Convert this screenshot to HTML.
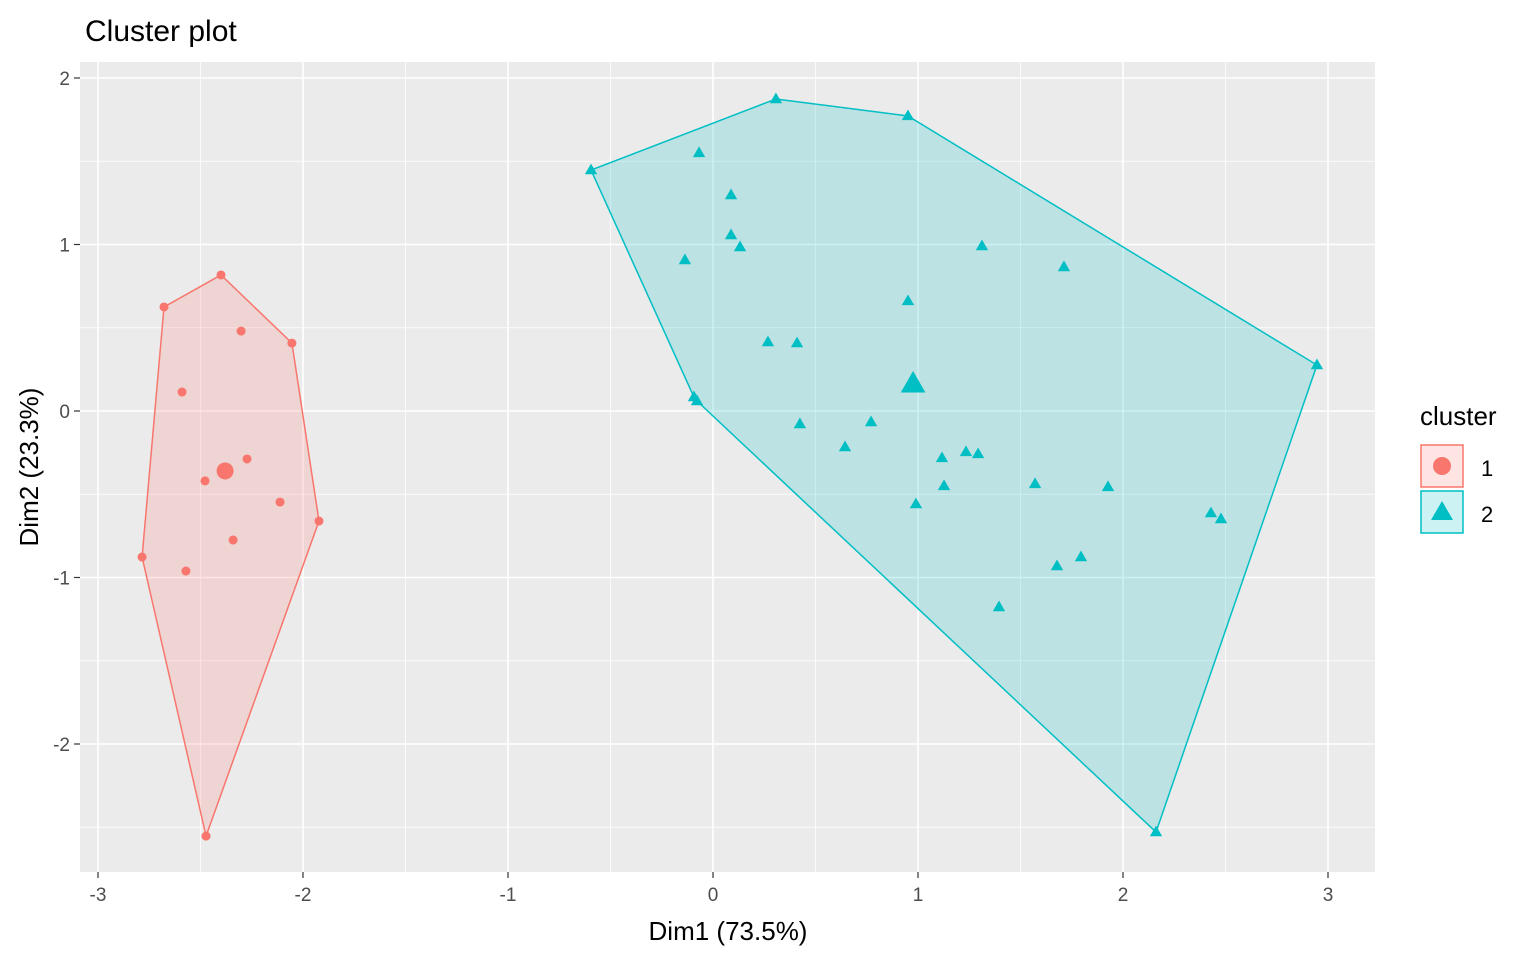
<!DOCTYPE html>
<html><head><meta charset="utf-8"><style>
body{margin:0;background:#fff;font-family:"Liberation Sans",sans-serif}
svg text{font-family:"Liberation Sans",sans-serif}
</style></head><body>
<svg id="chart" width="1536" height="960" xmlns="http://www.w3.org/2000/svg">
<rect x="0" y="0" width="1536" height="960" fill="#fff"/>
<text x="85" y="41" font-size="30" fill="#000">Cluster plot</text>
<rect x="80" y="62" width="1295" height="810" fill="#EBEBEB"/>
<g id="grid"></g><g id="marks"></g><g id="axes"></g>
<text x="728" y="940" font-size="26" text-anchor="middle" fill="#000">Dim1 (73.5%)</text>
<text transform="translate(38,467) rotate(-90)" font-size="26" text-anchor="middle" fill="#000">Dim2 (23.3%)</text>
<g>
<text x="1420" y="425" font-size="26" fill="#000">cluster</text>
<g>
<rect x="1421" y="445" width="42" height="42" fill="#F8766D" fill-opacity="0.2" stroke="#F8766D" stroke-width="1.5"/>
<circle cx="1442" cy="466" r="9" fill="#F8766D"/>
<text x="1481" y="476" font-size="22" fill="#000">1</text></g>
<g>
<rect x="1421" y="491" width="42" height="42" fill="#00BFC4" fill-opacity="0.2" stroke="#00BFC4" stroke-width="1.5"/>
<polygon points="1442,501 1453,520 1431,520" fill="#00BFC4"/>
<text x="1481" y="522" font-size="22" fill="#000">2</text></g>
</g>
</svg>
<script>
const xTicks=[-3,-2,-1,0,1,2,3];
const yTicks=[-2,-1,0,1,2];
const c1x=[-2.40,-2.678,-2.302,-2.054,-2.59,-2.273,-2.478,-2.112,-2.341,-1.922,-2.785,-2.571,-2.473];
const c1y=[0.817,0.625,0.48,0.408,0.114,-0.288,-0.42,-0.547,-0.775,-0.661,-0.877,-0.961,-2.553];
const c2x=[-0.595,0.307,0.951,2.946,2.161,-0.093,-0.078,-0.068,0.088,0.088,0.132,-0.137,1.312,1.712,0.951,0.268,0.41,0.424,0.771,0.644,1.117,1.234,1.293,1.127,0.99,1.571,1.927,2.429,2.478,1.678,1.795,1.395];
const c2y=[1.447,1.874,1.772,0.276,-2.529,0.084,0.06,1.55,1.297,1.057,0.985,0.907,0.991,0.865,0.661,0.414,0.408,-0.078,-0.066,-0.216,-0.282,-0.246,-0.258,-0.45,-0.559,-0.438,-0.456,-0.613,-0.649,-0.931,-0.877,-1.177];
const centersX=[-2.38,0.976];
const centersY=[-0.36,0.162];
const X=v=>713+205*v, Y=v=>411-166.5*v;
const NS="http://www.w3.org/2000/svg";
function mk(tag,attrs,parent){const e=document.createElementNS(NS,tag);for(const k in attrs)e.setAttribute(k,attrs[k]);parent.appendChild(e);return e;}
const grid=document.getElementById('grid'),marks=document.getElementById('marks'),axes=document.getElementById('axes');
for(let v=-3;v<=3.01;v+=0.5){const l=mk('line',{x1:X(v),x2:X(v),y1:62,y2:872,stroke:'#fff','stroke-width':Number.isInteger(v)?1.6:0.8},grid);
}
for(let v=-2.5;v<=2.01;v+=0.5){const l=mk('line',{x1:80,x2:1375,y1:Y(v),y2:Y(v),stroke:'#fff','stroke-width':Number.isInteger(v)?1.6:0.8},grid);
}
xTicks.forEach(v=>{mk('line',{x1:X(v),x2:X(v),y1:872,y2:878,stroke:'#333','stroke-width':1.2},axes);
const t=mk('text',{x:X(v),y:901,'font-size':19,'text-anchor':'middle',fill:'#4D4D4D'},axes);t.textContent=v;
});
yTicks.forEach(v=>{mk('line',{x1:74,x2:80,y1:Y(v),y2:Y(v),stroke:'#333','stroke-width':1.2},axes);
const t=mk('text',{x:70,y:Y(v)+7,'font-size':19,'text-anchor':'end',fill:'#4D4D4D'},axes);t.textContent=v;
});
function hull(xs,ys){const p=xs.map((x,i)=>[x,ys[i]]).sort((a,b)=>a[0]-b[0]||a[1]-b[1]);
const cr=(o,a,b)=>(a[0]-o[0])*(b[1]-o[1])-(a[1]-o[1])*(b[0]-o[0]);
const lo=[],up=[];for(const q of p){while(lo.length>=2&&cr(lo[lo.length-2],lo[lo.length-1],q)<=0)lo.pop();lo.push(q);}
for(const q of p.slice().reverse()){while(up.length>=2&&cr(up[up.length-2],up[up.length-1],q)<=0)up.pop();up.push(q);}
return lo.slice(0,-1).concat(up.slice(0,-1));}
const cols=['#F8766D','#00BFC4'];
[[c1x,c1y],[c2x,c2y]].forEach(([xs,ys],k)=>{
const h=hull(xs,ys);const poly=mk('polygon',{points:h.map(p=>X(p[0])+','+Y(p[1])).join(' '),fill:cols[k],'fill-opacity':0.2,stroke:cols[k],'stroke-width':1.5},marks);
});
function tri(cx,cy,s){return `${cx},${cy-s} ${cx+s*0.95},${cy+s*0.65} ${cx-s*0.95},${cy+s*0.65}`;}
c1x.forEach((x,i)=>{const c=mk('circle',{cx:X(x),cy:Y(c1y[i]),r:4.5,fill:cols[0]},marks);
});
c2x.forEach((x,i)=>{const c=mk('polygon',{points:tri(X(x),Y(c2y[i]),6.5),fill:cols[1]},marks);
});
const m1=mk('circle',{cx:X(centersX[0]),cy:Y(centersY[0]),r:8.5,fill:cols[0]},marks);

const m2=mk('polygon',{points:tri(X(centersX[1]),Y(centersY[1]),13),fill:cols[1]},marks);

</script>
</body></html>
